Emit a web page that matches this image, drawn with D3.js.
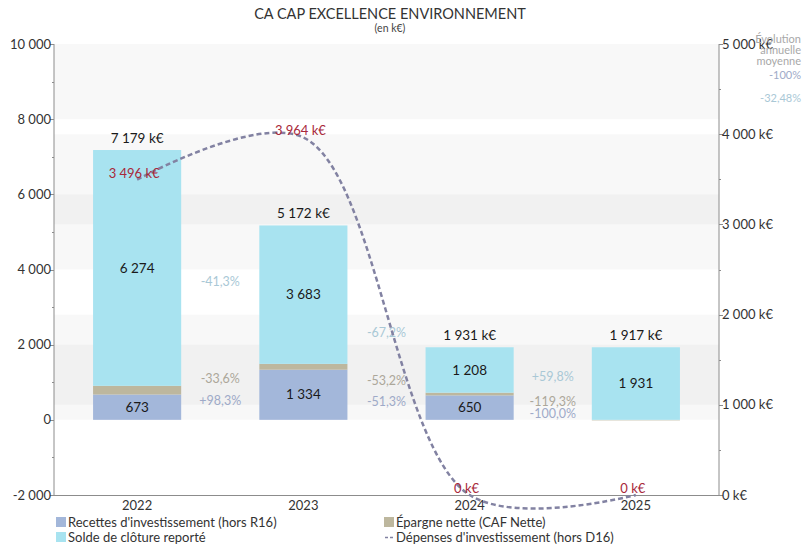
<!DOCTYPE html>
<html><head><meta charset="utf-8">
<script src="https://cdn.jsdelivr.net/npm/d3@7"></script>
<style>
html,body{margin:0;padding:0;background:#fff;}
svg{display:block;font-family:Lato,"Open Sans",sans-serif;}
</style></head>
<body><svg id="chart" width="812" height="550"></svg>
<script>
const years = ["2022", "2023", "2024", "2025"];
const recettes = [673, 1334, 650, 0];
const epargne = [232, 155, 73, -14];
const solde = [6274, 3683, 1208, 1931];
const totals = [7179, 5172, 1931, 1917];
const depenses = [3496, 3964, 0, 0];
const pctRecettes = ["+98,3%", "-51,3%", "-100,0%"];
const pctEpargne = ["-33,6%", "-53,2%", "-119,3%"];
const pctSolde = ["-41,3%", "-67,2%", "+59,8%"];
const avgEvolution = ["-100%", "", "-32,48%"]; // recettes, épargne, solde
const leftTicks = [-2000, 0, 2000, 4000, 6000, 8000, 10000];
const rightTicks = [0, 1000, 2000, 3000, 4000, 5000];
const seriesNames = ["Recettes d'investissement (hors R16)", "Épargne nette (CAF Nette)", "Solde de clôture reporté", "Dépenses d'investissement (hors D16)"];
const titleText = "CA CAP EXCELLENCE ENVIRONNEMENT";
const subtitleText = "(en k€)";

const colors = {recettes: "#a3b7da", epargne: "#bdb79e", solde: "#a8e3f0", line: "#8282a2"};
const pctColors = {recettes: "#9eaac8", epargne: "#aca79a", solde: "#a9c8d6"};

const loc = d3.formatLocale({decimal: ",", thousands: "\u00a0", grouping: [3], currency: ["", ""]});
const fmt = loc.format(",.0f");

const svg = d3.select("#chart");
const L = 54, R = 719, T = 44, B = 495;

const x = d3.scaleBand().domain(years).range([L, R]).paddingInner(0.47).paddingOuter(0.235);
const yL = d3.scaleLinear().domain([-2000, 10000]).range([B, T]);
const yR = d3.scaleLinear().domain([0, 5000]).range([B, T]);

// alternate bands
const gBands = svg.append("g");
for (let i = 0; i < leftTicks.length - 1; i++) {
  if (i % 2 === 1) gBands.append("rect").attr("x", L).attr("width", R - L)
    .attr("y", yL(leftTicks[i + 1])).attr("height", yL(leftTicks[i]) - yL(leftTicks[i + 1]))
    .attr("fill", "#000").attr("fill-opacity", 0.028);
}
for (let i = 0; i < rightTicks.length - 1; i++) {
  if (i % 2 === 1) gBands.append("rect").attr("x", L).attr("width", R - L)
    .attr("y", yR(rightTicks[i + 1])).attr("height", yR(rightTicks[i]) - yR(rightTicks[i + 1]))
    .attr("fill", "#000").attr("fill-opacity", 0.028);
}

// stack
const rows = years.map((y, i) => ({year: y, recettes: recettes[i], epargne: epargne[i], solde: solde[i]}));
const keys = ["recettes", "epargne", "solde"];
const stacked = d3.stack().keys(keys).offset(d3.stackOffsetDiverging)(rows);

const gBars = svg.append("g");
stacked.forEach(s => {
  gBars.selectAll(null).data(s).enter().append("rect")
    .attr("x", d => x(d.data.year))
    .attr("width", x.bandwidth())
    .attr("y", d => yL(Math.max(d[0], d[1])))
    .attr("height", d => Math.abs(yL(d[0]) - yL(d[1])))
    .attr("fill", colors[s.key]);
});

// labels inside bars
["recettes", "solde"].forEach(k => {
  const s = stacked.find(t => t.key === k);
  gBars.selectAll(null).data(s.filter(d => Math.abs(d[1] - d[0]) > 0)).enter().append("text")
    .attr("x", d => x(d.data.year) + x.bandwidth() / 2)
    .attr("y", d => yL((d[0] + d[1]) / 2))
    .attr("dy", "0.35em").attr("text-anchor", "middle")
    .attr("font-size", 13.5).attr("fill", "#1a1a1a")
    .text(d => fmt(d.data[k]));
});

// totals
const tops = years.map((y, i) => d3.max(stacked, s => Math.max(s[i][0], s[i][1])));
svg.append("g").selectAll("text").data(years).enter().append("text")
  .attr("x", d => x(d) + x.bandwidth() / 2)
  .attr("y", (d, i) => yL(tops[i]) - 7)
  .attr("text-anchor", "middle").attr("font-size", 13.5).attr("fill", "#1a1a1a")
  .text((d, i) => fmt(totals[i]) + " k€");

// percentage labels between bars
const gPct = svg.append("g");
for (let i = 0; i < years.length - 1; i++) {
  const cx = (x(years[i]) + x.bandwidth() + x(years[i + 1])) / 2;
  const items = [
    {k: "solde", t: pctSolde[i]},
    {k: "epargne", t: pctEpargne[i]},
    {k: "recettes", t: pctRecettes[i]}
  ].map(o => {
    const s = stacked.find(t => t.key === o.k);
    const m0 = (s[i][0] + s[i][1]) / 2, m1 = (s[i + 1][0] + s[i + 1][1]) / 2;
    return Object.assign(o, {y: yL((m0 + m1) / 2)});
  });
  items.sort((a, b) => b.y - a.y);
  for (let j = 1; j < items.length; j++) {
    if (items[j - 1].y - items[j].y < 12) items[j].y = items[j - 1].y - 12;
  }
  items.forEach(o => {
    gPct.append("text").attr("x", cx).attr("y", o.y).attr("dy", "0.35em")
      .attr("text-anchor", "middle").attr("font-size", 12.5).attr("fill", pctColors[o.k]).text(o.t);
  });
}

// axes
const axisColor = "#8c8c8c", textColor = "#333";
const gA = svg.append("g");
gA.append("line").attr("x1", L).attr("x2", L).attr("y1", T).attr("y2", B).attr("stroke", axisColor);
gA.append("line").attr("x1", R).attr("x2", R).attr("y1", T).attr("y2", B).attr("stroke", axisColor);
gA.append("line").attr("x1", L).attr("x2", R + 1).attr("y1", B + 0.5).attr("y2", B + 0.5).attr("stroke", axisColor);

const leftMinor = d3.range(-2000, 10001, 1000);
gA.selectAll(null).data(leftMinor).enter().append("line")
  .attr("x1", L).attr("x2", d => leftTicks.includes(d) ? L - 4 : L - 2)
  .attr("y1", d => Math.round(yL(d)) + 0.5).attr("y2", d => Math.round(yL(d)) + 0.5)
  .attr("stroke", axisColor);
gA.selectAll(null).data(leftTicks).enter().append("text")
  .attr("x", L - 3).attr("y", d => yL(d)).attr("dy", "0.35em")
  .attr("text-anchor", "end").attr("font-size", 13).attr("fill", textColor)
  .text(d => d < 0 ? "-" + fmt(-d) : fmt(d));

const rightMinor = d3.range(0, 5001, 500);
gA.selectAll(null).data(rightMinor).enter().append("line")
  .attr("x1", R).attr("x2", d => rightTicks.includes(d) ? R + 4 : R + 2)
  .attr("y1", d => Math.round(yR(d)) + 0.5).attr("y2", d => Math.round(yR(d)) + 0.5)
  .attr("stroke", axisColor);
gA.selectAll(null).data(rightTicks).enter().append("text")
  .attr("x", R + 3).attr("y", d => yR(d)).attr("dy", "0.35em")
  .attr("text-anchor", "start").attr("font-size", 13).attr("fill", textColor)
  .text(d => fmt(d) + " k€");

gA.selectAll(null).data(years).enter().append("text")
  .attr("x", d => x(d) + x.bandwidth() / 2).attr("y", B + 10).attr("dy", "0.35em")
  .attr("text-anchor", "middle").attr("font-size", 13).attr("fill", textColor).text(d => d);

// line
const pts = years.map((y, i) => [x(y) + x.bandwidth() / 2, yR(depenses[i])]);
svg.append("path").attr("d", d3.line().curve(d3.curveCatmullRom.alpha(0.5))(pts))
  .attr("fill", "none").attr("stroke", colors.line).attr("stroke-width", 2.5)
  .attr("stroke-dasharray", "5,3");
svg.append("g").selectAll("text").data(pts).enter().append("text")
  .attr("x", d => d[0] - 3).attr("y", d => d[1] - 2)
  .attr("text-anchor", "middle").attr("font-size", 13).attr("fill", "#a8283a")
  .text((d, i) => fmt(depenses[i]) + " k€");

// title
svg.append("text").attr("x", 390).attr("y", 19).attr("text-anchor", "middle")
  .attr("font-size", 14.5).attr("fill", "#333").text(titleText);
svg.append("text").attr("x", 390).attr("y", 32).attr("text-anchor", "middle")
  .attr("font-size", 10.5).attr("fill", "#444").text(subtitleText);

// average evolution block
const gAvg = svg.append("g").attr("font-size", 11).attr("text-anchor", "end");
["Évolution", "annuelle", "moyenne"].forEach((t, i) => {
  gAvg.append("text").attr("x", 801).attr("y", 43 + i * 11).attr("fill", "#a8a8a8").text(t);
});
const avgColors = [pctColors.recettes, pctColors.epargne, pctColors.solde];
avgEvolution.forEach((t, i) => {
  gAvg.append("text").attr("x", 801).attr("y", 79 + i * 11.5).attr("fill", avgColors[i]).text(t);
});

// legend
const gLeg = svg.append("g").attr("font-size", 13).attr("fill", "#333");
const legItems = [
  {name: seriesNames[0], c: colors.recettes, x: 56, y: 522, type: "rect"},
  {name: seriesNames[2], c: colors.solde, x: 56, y: 537, type: "rect"},
  {name: seriesNames[1], c: colors.epargne, x: 384, y: 522, type: "rect"},
  {name: seriesNames[3], c: colors.line, x: 384, y: 537, type: "line"}
];
legItems.forEach(o => {
  if (o.type === "rect") {
    gLeg.append("rect").attr("x", o.x).attr("y", o.y - 5).attr("width", 10).attr("height", 10).attr("fill", o.c);
  } else {
    gLeg.append("line").attr("x1", o.x + 1).attr("x2", o.x + 10).attr("y1", o.y + 0.5).attr("y2", o.y + 0.5)
      .attr("stroke", o.c).attr("stroke-width", 1.5).attr("stroke-dasharray", "3,2");
  }
  gLeg.append("text").attr("x", o.x + 12).attr("y", o.y).attr("dy", "0.35em").text(o.name);
});
</script></body></html>
